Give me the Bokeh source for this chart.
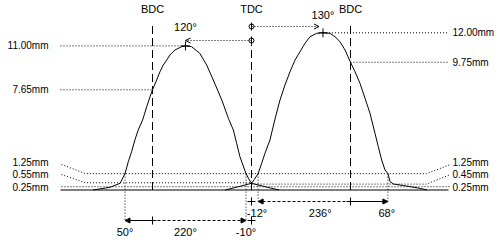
from bokeh.plotting import figure
from bokeh.models import Range1d, Arrow, NormalHead, OpenHead
from bokeh.embed import file_html
from bokeh.resources import INLINE
from bokeh.core.properties import value

# ---------------- data ----------------
# crank angle in degrees relative to TDC (negative = before TDC), lift in mm
ex_deg = [-288, -257, -239, -230, -224, -218, -212, -206, -198, -190.5, -184.5, -180,
          -172.4, -166.4, -160.4, -154.2, -148.2, -139, -127, -120, -109, -94, -81.5,
          -69.5, -54, -42, -33, -27, -21, -10, -5, 0, 25, 50]
ex_lift = [0, 0.21, 0.51, 1.25, 2.16, 2.92, 3.82, 4.58, 5.34, 6.36, 7.12, 7.65,
           8.40, 9.03, 9.54, 9.92, 10.31, 10.69, 10.94, 11.0, 10.94, 10.43, 9.54,
           8.4, 6.87, 5.47, 4.58, 3.56, 2.54, 1.25, 0.85, 0.51, 0.25, 0]

in_deg = [-48, -24, 0, 5, 12, 18.5, 24.5, 33.6, 42.7, 51.8, 60.9, 70, 79.1, 88.2, 97.3,
          106.4, 118.5, 130, 142.7, 151.8, 160.9, 170, 180, 188.2, 197.3, 206.4, 215.5,
          224.5, 230.5, 236.7, 242.7, 248, 252, 258, 276, 306, 319]
in_lift = [0, 0.25, 0.51, 0.8, 1.25, 2.04, 2.80, 3.82, 5.42, 6.87, 8.02, 9.03, 9.92,
           10.56, 11.2, 11.70, 11.96, 12.0, 11.96, 11.70, 11.32, 10.69, 9.75, 9.03,
           8.14, 7.0, 5.85, 4.33, 3.31, 2.29, 1.53, 1.25, 0.63, 0.46, 0.34, 0.13, 0]

ex_peak_deg, ex_peak_lift = -120, 11.00
in_peak_deg, in_peak_lift = 130, 12.00
ex_bdc_lift, in_bdc_lift = 7.65, 9.75
check_lift = 1.25
ex_lash, in_lash = 0.55, 0.45
base_lift = 0.25

ex_open, ex_close = -230, -10      # 50 deg BBDC, 10 deg BTDC
in_open, in_close = 12, 248        # 12 deg ATDC, 68 deg ABDC

ex_open_lbl, ex_dur_lbl, ex_close_lbl = "50°", "220°", "-10°"
in_open_lbl, in_dur_lbl, in_close_lbl = "-12°", "236°", "68°"
ex_peak_lbl, in_peak_lbl = "120°", "130°"
left_lbls = ["11.00mm", "7.65mm", "1.25mm", "0.55mm", "0.25mm"]
right_lbls = ["12.00mm", "9.75mm", "1.25mm", "0.45mm", "0.25mm"]
top_lbls = ["BDC", "TDC", "BDC"]
top_deg = [-180, 0, 180]

# ---------------- layout ----------------
W, H = 500, 240
PX_PER_DEG = 0.55
TDC_PX = 251.0
PX_PER_MM = 13.1
BASE_PX = 189.5


def dx(px):
    return (px - TDC_PX) / PX_PER_DEG


def dy(py):
    return (BASE_PX - py) / PX_PER_MM


p = figure(width=W, height=H, output_backend="svg", toolbar_location=None,
           x_range=Range1d(dx(0), dx(W)), y_range=Range1d(dy(H), dy(0)),
           x_axis_type=None, y_axis_type=None, min_border=0,
           outline_line_color=None, background_fill_color="white",
           border_fill_color="white")
p.grid.visible = False

FONT = value("Liberation Sans")
DOT = "1 2"
K = "black"

# curves
p.line(ex_deg, ex_lift, line_color=K, line_width=1)
p.line(in_deg, in_lift, line_color=K, line_width=1)

# baseline
p.line([dx(60), dx(448)], [0, 0], line_color=K, line_width=1)

# BDC / TDC dashed verticals
p.segment(x0=[-180, 180, 0], y0=[0, 0, 0], x1=[-180, 180, 0],
          y1=[dy(22), dy(22), dy(44)], line_color=K, line_dash="8 4", line_width=1)

# top labels
p.text(x=top_deg, y=[dy(8)] * 3, text=top_lbls, text_font=FONT, text_font_size="11px",
       text_align="center", text_baseline="middle", text_color=K)

# peak guides
p.line([dx(60), ex_peak_deg], [ex_peak_lift] * 2, line_color=K, line_dash=DOT)
p.line([dx(60), -180], [ex_bdc_lift] * 2, line_color=K, line_dash=DOT)
p.line([in_peak_deg, dx(447)], [in_peak_lift] * 2, line_color=K, line_dash=DOT)
p.line([180, dx(447)], [in_bdc_lift] * 2, line_color=K, line_dash=DOT)

# low-lift guides with leaders
lx0, lx1 = dx(61), dx(85)
rx0, rx1 = dx(450), dx(426)
p.line([lx0, lx1, rx1, rx0], [dy(164), check_lift, check_lift, dy(164)],
       line_color=K, line_dash=DOT)
p.line([lx0, lx1, 0], [dy(174), ex_lash, ex_lash], line_color=K, line_dash=DOT)
p.line([0, rx1, rx0], [in_lash, in_lash, dy(174)], line_color=K, line_dash=DOT)
p.line([lx0, rx0], [base_lift, base_lift], line_color=K, line_dash=DOT)

# side labels
ly = [ex_peak_lift, ex_bdc_lift, dy(162), dy(174), dy(187)]
ry = [in_peak_lift, in_bdc_lift, dy(162), dy(174), dy(187)]
p.text(x=[dx(48)] * 5, y=ly, text=left_lbls, text_font=FONT, text_font_size="10px",
       text_align="right", text_baseline="middle", text_color=K)
p.text(x=[dx(452)] * 5, y=ry, text=right_lbls, text_font=FONT, text_font_size="10px",
       text_align="left", text_baseline="middle", text_color=K)

# peak markers and angle dimensions
p.scatter([ex_peak_deg, in_peak_deg], [ex_peak_lift, in_peak_lift], marker="cross",
          size=9, line_color=K)
ya, yb = dy(40), dy(26)
p.add_layout(Arrow(end=OpenHead(size=5, line_color=K, line_width=1),
                   x_start=0, y_start=ya, x_end=ex_peak_deg, y_end=ya,
                   line_color=K, line_dash=DOT, line_width=1))
p.add_layout(Arrow(end=OpenHead(size=5, line_color=K, line_width=1),
                   x_start=0, y_start=yb, x_end=in_peak_deg - 4 / PX_PER_DEG, y_end=yb,
                   line_color=K, line_dash=DOT, line_width=1))
p.scatter([0, 0], [ya, yb], marker="circle", size=5, fill_color="white", line_color=K)
h = 4 / PX_PER_MM
p.segment(x0=[0, 0], y0=[ya - h, yb - h], x1=[0, 0], y1=[ya + h, yb + h], line_color=K)
p.text(x=[ex_peak_deg, in_peak_deg], y=[dy(26), dy(14)], text=[ex_peak_lbl, in_peak_lbl],
       text_font=FONT, text_font_size="11px", text_align="center",
       text_baseline="middle", text_color=K)

# timing verticals
r1, r2 = dy(220), dy(201)
p.segment(x0=[ex_open, ex_close, in_open, in_close], y0=[check_lift] * 4,
          x1=[ex_open, ex_close, in_open, in_close], y1=[r1, r1, r2, r2],
          line_color=K, line_dash=DOT)

# duration arrows
def arrow(xs, xe, y, dash):
    p.add_layout(Arrow(end=NormalHead(size=5, fill_color=K, line_color=K, line_width=1),
                       x_start=xs, y_start=y, x_end=xe, y_end=y,
                       line_color=K, line_width=1, line_dash=dash))


arrow(-180, ex_open, r1, "solid")
arrow(-180, ex_close, r1, "3 2")
arrow(180, in_open, r2, "3 2")
arrow(180, in_close, r2, "solid")
p.scatter([-180, 0, 0, 180], [r1, r1, r2, r2], marker="cross", size=8, line_color=K)

p.text(x=[ex_open, (ex_open + ex_close) / 2, ex_close], y=[dy(231)] * 3,
       text=[ex_open_lbl, ex_dur_lbl, ex_close_lbl], text_font=FONT,
       text_font_size="11px", text_align="center", text_baseline="middle", text_color=K)
p.text(x=[in_open - 2, (in_open + in_close) / 2 - 5, in_close - 2], y=[dy(212)] * 3,
       text=[in_open_lbl, in_dur_lbl, in_close_lbl], text_font=FONT,
       text_font_size="11px", text_align="center", text_baseline="middle", text_color=K)

open("out.html", "w").write(file_html(p, INLINE))
